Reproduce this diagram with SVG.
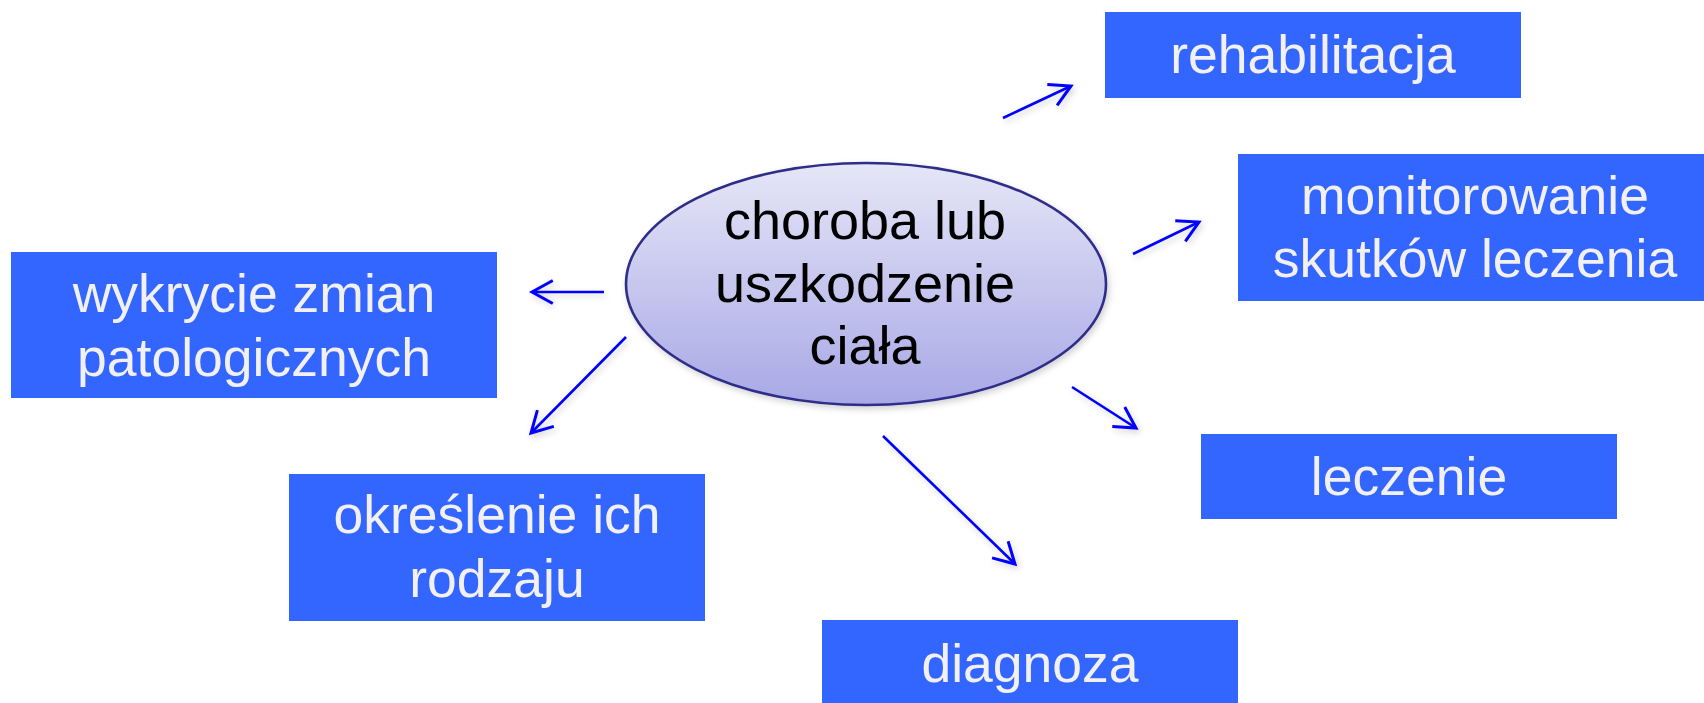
<svg xmlns="http://www.w3.org/2000/svg" width="1704" height="703" viewBox="0 0 1704 703">
  <style>
    .box { fill: #3366FF; }
    .bt { font-family: "Liberation Sans", Arial, sans-serif; font-size: 53.5px; fill: #F2F0F0; text-anchor: middle; }
    .ct { font-family: "Liberation Sans", Arial, sans-serif; font-size: 54px; fill: #000000; text-anchor: middle; }
    .conn { stroke: #0000FF; stroke-width: 2.6; fill: none; marker-end: url(#arr); }
  </style>
  <defs>
    <linearGradient id="eg" x1="0" y1="0" x2="0" y2="1">
      <stop offset="0" stop-color="#E6E6F7"/>
      <stop offset="1" stop-color="#A8A8E6"/>
    </linearGradient>
    <filter id="sh" filterUnits="userSpaceOnUse" x="0" y="0" width="1704" height="703">
      <feDropShadow dx="2" dy="3" stdDeviation="3" flood-color="#000" flood-opacity="0.18"/>
    </filter>
    <marker id="arr" markerUnits="userSpaceOnUse" markerWidth="30" markerHeight="30" viewBox="-22 -13 26 26" refX="0" refY="0" orient="auto">
      <path d="M -18 -10 L 0 0 L -18 10" fill="none" stroke="#0000FF" stroke-width="2.6"/>
    </marker>
  </defs>
  <rect width="1704" height="703" fill="#FFFFFF"/>

  <g id="connectors" filter="url(#sh)">
    <line class="conn" x1="1003" y1="118" x2="1071" y2="86"/>
    <line class="conn" x1="1133" y1="254" x2="1199" y2="222"/>
    <line class="conn" x1="1072" y1="387" x2="1136" y2="428"/>
    <line class="conn" x1="883" y1="436" x2="1015" y2="564"/>
    <line class="conn" x1="604" y1="292" x2="532" y2="292"/>
    <line class="conn" x1="626" y1="337" x2="531" y2="433"/>
  </g>

  <g id="center">
    <ellipse cx="866" cy="284" rx="240" ry="121" fill="url(#eg)" stroke="#2E2E8A" stroke-width="2.6" filter="url(#sh)"/>
    <text class="ct" x="865" y="239">choroba lub</text>
    <text class="ct" x="865" y="302">uszkodzenie</text>
    <text class="ct" x="865" y="364">ciała</text>
  </g>

  <g id="rehabilitacja">
    <rect class="box" x="1105" y="12" width="416" height="86"/>
    <text class="bt" x="1313" y="73">rehabilitacja</text>
  </g>

  <g id="monitorowanie">
    <rect class="box" x="1238" y="154" width="466" height="147"/>
    <text class="bt" x="1475" y="214">monitorowanie</text>
    <text class="bt" x="1475" y="277">skutków leczenia</text>
  </g>

  <g id="leczenie">
    <rect class="box" x="1201" y="434" width="416" height="85"/>
    <text class="bt" x="1409" y="495">leczenie</text>
  </g>

  <g id="diagnoza">
    <rect class="box" x="822" y="620" width="416" height="90"/>
    <text class="bt" x="1030" y="682">diagnoza</text>
  </g>

  <g id="wykrycie">
    <rect class="box" x="11" y="252" width="486" height="146"/>
    <text class="bt" x="254" y="312">wykrycie zmian</text>
    <text class="bt" x="254" y="376">patologicznych</text>
  </g>

  <g id="okreslenie">
    <rect class="box" x="289" y="474" width="416" height="147"/>
    <text class="bt" x="497" y="533">określenie ich</text>
    <text class="bt" x="497" y="597">rodzaju</text>
  </g>
</svg>
